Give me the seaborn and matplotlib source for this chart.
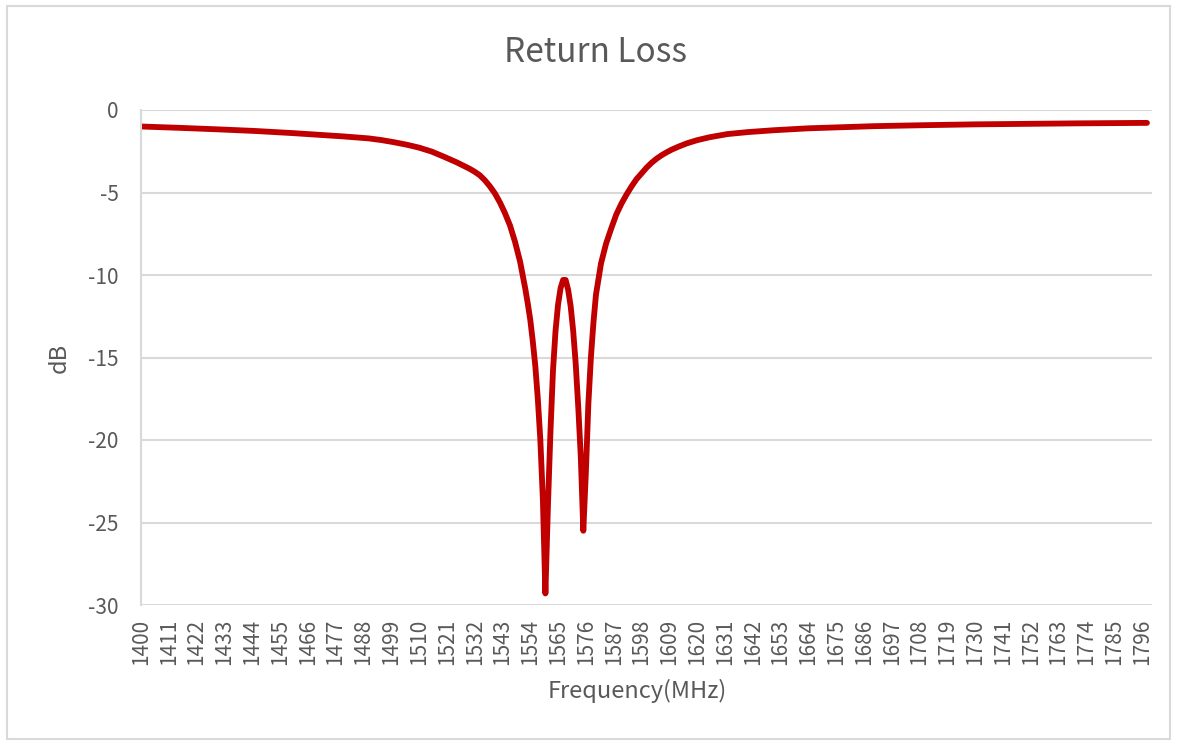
import numpy as np
import pandas as pd
import seaborn as sns
import matplotlib.pyplot as plt
from matplotlib.patches import Rectangle

# Return loss readings (MHz, dB) taken off the reference curve
freq = [1400, 1415, 1430, 1445, 1460, 1470, 1480, 1490, 1495, 1500,
        1505, 1510, 1515, 1520, 1525, 1530, 1532, 1534, 1536, 1538, 1540,
        1542, 1544, 1546, 1548, 1550, 1551, 1552, 1553, 1554, 1555,
        1556, 1557, 1558, 1559, 1560, 1561, 1562, 1563, 1564, 1565,
        1566, 1567, 1568, 1569, 1570, 1571, 1572, 1573, 1574, 1575,
        1576, 1577, 1578, 1579, 1580, 1582, 1584, 1586, 1588, 1590,
        1592, 1594, 1596, 1598, 1600, 1602, 1604, 1606, 1608, 1610,
        1613, 1616, 1620, 1625, 1632, 1640, 1650, 1664, 1680, 1690,
        1710, 1730, 1750, 1770, 1798]
return_loss = [-1.0, -1.08, -1.17, -1.27, -1.4, -1.5, -1.6, -1.72, -1.82, -1.95,
               -2.1, -2.28, -2.52, -2.84, -3.18, -3.56, -3.74, -3.95, -4.25, -4.62, -5.05,
               -5.6, -6.25, -7.0, -8.0, -9.2, -10.0, -10.8, -11.7, -12.7, -14.0,
               -15.5, -17.5, -20.0, -23.6, -29.3, -24.0, -19.5, -15.8, -13.4, -11.8,
               -10.8, -10.3, -10.3, -10.9, -11.9, -13.4, -15.4, -18.0, -21.0, -25.5,
               -22.0, -17.8, -15.0, -12.9, -11.2, -9.3, -8.1, -7.2, -6.35, -5.7,
               -5.15, -4.65, -4.2, -3.85, -3.5, -3.2, -2.95, -2.74, -2.56, -2.4,
               -2.2, -2.02, -1.83, -1.65, -1.46, -1.34, -1.23, -1.11, -1.03, -0.98,
               -0.92, -0.87, -0.84, -0.81, -0.78]

x_ticks = list(range(1400, 1797, 11))
y_ticks = [0, -5, -10, -15, -20, -25, -30]

df = pd.DataFrame({'Frequency': freq, 'dB': return_loss})

sns.set_style('white')
plt.rcParams['font.family'] = ['Noto Sans CJK SC', 'DejaVu Sans']
plt.rcParams['axes.unicode_minus'] = False
txt = '#595959'
grid = '#d9d9d9'

fig = plt.figure(figsize=(11.77, 7.45), dpi=100)
ax = fig.add_axes([141/1177, 1 - 605/745, 1011/1177, 495/745])

# outer chart border like excel
fig.patches.append(Rectangle((7/1177, 6/745), 1163/1177, 733/745, transform=fig.transFigure,
                             fill=False, edgecolor=grid, linewidth=1.5))

for y in y_ticks:
    ax.axhline(y, color=grid, linewidth=1.5, zorder=0)

sns.lineplot(data=df, x='Frequency', y='dB', color='#C00000', linewidth=4.2, ax=ax,
             solid_capstyle='round', solid_joinstyle='round')

ax.set_xlim(1400, 1800)
ax.set_ylim(-30, 0)
ax.set_xticks(x_ticks)
ax.set_xticklabels([str(t) for t in x_ticks], rotation=90)
ax.set_yticks(y_ticks)
ax.tick_params(axis='both', length=0, labelsize=15, colors=txt)
ax.tick_params(axis='x', pad=10)
ax.tick_params(axis='y', pad=16)

for s in ['top', 'right', 'bottom']:
    ax.spines[s].set_visible(False)
ax.spines['left'].set_color(grid)
ax.spines['left'].set_linewidth(1.5)

ax.set_xlabel('Frequency(MHz)', fontsize=17, color=txt, va='center')
ax.set_ylabel('dB', fontsize=17, color=txt, va='center')
ax.xaxis.set_label_coords(0.491, -86/495)
ax.yaxis.set_label_coords(-82/1011, 0.5)

fig.text(595/1177, 1 - 52/745, 'Return Loss', ha='center', va='center', fontsize=24, color=txt)

fig.savefig('out.png', dpi=100)
